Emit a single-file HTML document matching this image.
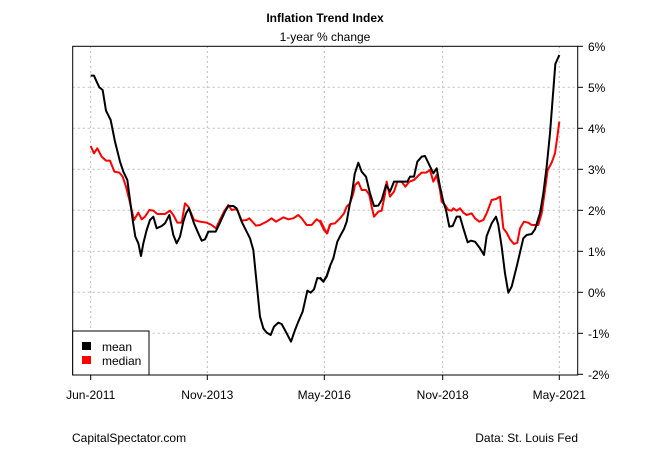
<!DOCTYPE html>
<html><head><style>body{margin:0;background:#fff}svg{display:block}text{font-family:"Liberation Sans",Arial,sans-serif;font-size:12px;fill:#000}</style></head>
<body>
<svg width="650" height="450" viewBox="0 0 650 450">
<text x="325" y="22" text-anchor="middle" font-weight="bold">Inflation Trend Index</text>
<text x="325" y="41" text-anchor="middle">1-year % change</text>
<g stroke="#bbb" stroke-dasharray="2,3" stroke-width="1">
<line x1="72.7" x2="577.7" y1="87.3" y2="87.3"/><line x1="72.7" x2="577.7" y1="128.3" y2="128.3"/><line x1="72.7" x2="577.7" y1="169.3" y2="169.3"/><line x1="72.7" x2="577.7" y1="210.3" y2="210.3"/><line x1="72.7" x2="577.7" y1="251.3" y2="251.3"/><line x1="72.7" x2="577.7" y1="292.3" y2="292.3"/><line x1="72.7" x2="577.7" y1="333.3" y2="333.3"/>
<line x1="90.7" x2="90.7" y1="46" y2="375"/><line x1="207.3" x2="207.3" y1="46" y2="375"/><line x1="324.3" x2="324.3" y1="46" y2="375"/><line x1="442.7" x2="442.7" y1="46" y2="375"/><line x1="559.3" x2="559.3" y1="46" y2="375"/>
</g>
<rect x="72.7" y="46.3" width="505" height="328.7" fill="none" stroke="#000"/>
<g stroke="#000">
<line x1="90.7" x2="90.7" y1="375" y2="380"/><line x1="207.3" x2="207.3" y1="375" y2="380"/><line x1="324.3" x2="324.3" y1="375" y2="380"/><line x1="442.7" x2="442.7" y1="375" y2="380"/><line x1="559.3" x2="559.3" y1="375" y2="380"/>
<line x1="577.7" x2="583" y1="46.3" y2="46.3"/><line x1="577.7" x2="583" y1="87.3" y2="87.3"/><line x1="577.7" x2="583" y1="128.3" y2="128.3"/><line x1="577.7" x2="583" y1="169.3" y2="169.3"/><line x1="577.7" x2="583" y1="210.3" y2="210.3"/><line x1="577.7" x2="583" y1="251.3" y2="251.3"/><line x1="577.7" x2="583" y1="292.3" y2="292.3"/><line x1="577.7" x2="583" y1="333.3" y2="333.3"/><line x1="577.7" x2="583" y1="374.3" y2="374.3"/>
</g>
<g text-anchor="start">
<text x="588" y="51">6%</text><text x="588" y="92">5%</text><text x="588" y="133">4%</text><text x="588" y="174">3%</text><text x="588" y="215">2%</text><text x="588" y="256">1%</text><text x="588" y="297">0%</text><text x="588" y="338">-1%</text><text x="588" y="379">-2%</text>
</g>
<g text-anchor="middle">
<text x="90.7" y="399">Jun-2011</text><text x="207.3" y="399">Nov-2013</text><text x="324.3" y="399">May-2016</text><text x="442.7" y="399">Nov-2018</text><text x="559.3" y="399">May-2021</text>
</g>
<text x="72" y="442">CapitalSpectator.com</text>
<text x="578" y="442" text-anchor="end">Data: St. Louis Fed</text>
<g fill="none" stroke-width="2" stroke-linejoin="round">
<g transform="translate(70,40) scale(0.33333)">
<polyline vector-effect="non-scaling-stroke" stroke="#f00" points="62,318 72,340 82,325 95,350 108,362 120,362 133,395 148,398 158,410 168,440 178,480 185,510 192,540 205,518 215,538 225,530 238,510 250,512 262,522 285,522 300,512 310,525 322,548 335,548 345,490 355,500 372,540 390,545 410,548 425,555 438,565 452,535 462,515 475,495 485,510 495,508 502,510 515,542 530,540 538,535 558,557 570,555 590,545 605,535 618,545 640,532 655,538 670,535 685,525 695,535 710,555 725,555 740,538 750,545 762,570 772,580 780,552"/>
<polyline vector-effect="non-scaling-stroke" stroke="#000" points="62,107 72,107 80,125 88,142 98,150 108,212 122,240 135,305 150,365 160,395 172,420 180,480 188,540 196,590 205,610 213,648 220,610 230,570 240,540 250,530 260,565 275,558 285,550 298,525 310,585 320,610 330,590 340,545 348,520 357,505 372,550 385,580 395,602 405,598 415,575 437,575 450,548 465,515 475,498 490,498 500,505 515,545 530,575 540,595 550,630 560,730 570,830 580,865 590,878 602,885 612,860 625,848 635,852 650,880 663,905 675,870 685,845 698,815 712,752 722,758 732,748 742,714 750,715 760,725 770,710 780,680"/>
</g>
<g transform="translate(320,40) scale(0.33333)">
<polyline vector-effect="non-scaling-stroke" stroke="#f00" points="0,540 10,560 20,580 32,552 45,550 60,535 72,520 80,500 90,490 100,460 105,435 115,426 125,450 138,450 148,465 155,500 162,530 175,515 185,512 195,462 200,425 210,470 222,455 232,425 245,425 256,440 268,425 282,420 292,410 305,398 318,398 330,390 340,425 350,405 360,450 365,485 375,495 385,510 395,512 400,505 410,512 420,505 430,518 440,525 455,520 465,535 478,545 490,540 500,520 515,480 528,477 540,470 550,565 560,578 570,598 582,612 592,608 600,565 612,545 625,548 635,555 655,555 665,520 675,450 683,390 695,368 705,340 712,290 718,245"/>
<polyline vector-effect="non-scaling-stroke" stroke="#000" points="0,712 10,725 20,708 30,678 40,655 52,605 62,585 72,567 80,545 88,500 96,460 104,402 115,368 125,395 138,410 150,460 162,498 175,497 185,480 198,435 210,455 222,425 250,425 262,425 270,410 282,410 292,365 305,350 315,348 328,375 340,400 350,385 360,440 370,485 378,510 388,560 398,558 410,530 420,530 430,565 443,607 453,602 465,605 478,622 492,645 500,588 515,550 528,530 535,555 545,620 555,700 565,758 575,740 590,680 610,595 620,585 635,582 645,568 660,520 670,460 680,380 690,280 700,150 706,72 718,45"/>
</g>
</g>
<rect x="72.7" y="331" width="76.3" height="44" fill="#fff" stroke="#000"/>
<rect x="82" y="342" width="9" height="8" fill="#000"/>
<rect x="82" y="356" width="9" height="8" fill="#f00"/>
<text x="102" y="351">mean</text>
<text x="102" y="365">median</text>
</svg>
</body></html>
